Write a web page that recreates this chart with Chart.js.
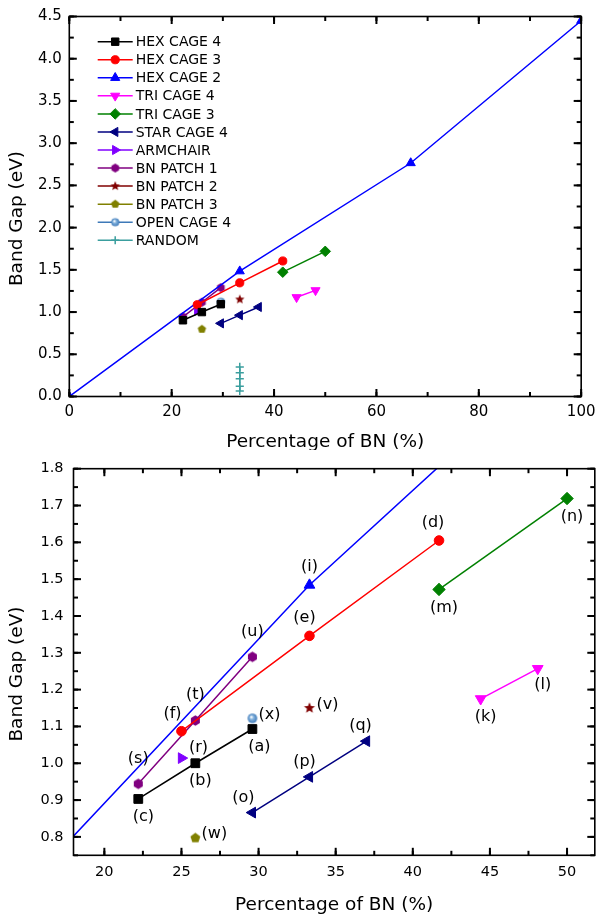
<!DOCTYPE html>
<html>
<head>
<meta charset="utf-8">
<script src="https://cdn.jsdelivr.net/npm/chart.js@4/dist/chart.umd.min.js"></script>
<style>
  body { margin: 0; background: #fff; }
  #wrap { position: relative; width: 602px; height: 918px; overflow: hidden; }
  canvas { position: absolute; left: 0; }
  #overview { top: 0; }
  #zoomed { top: 450px; background: #fff; }
</style>
</head>
<body>
<div id="wrap">
  <canvas id="overview" width="602" height="470"></canvas>
  <canvas id="zoomed" width="602" height="468"></canvas>
</div>
<script>
// values: x = percentage of BN, y = band gap (eV)
const seriesNames = ['HEX CAGE 4', 'HEX CAGE 3', 'HEX CAGE 2', 'TRI CAGE 4', 'TRI CAGE 3', 'STAR CAGE 4',
  'ARMCHAIR', 'BN PATCH 1', 'BN PATCH 2', 'BN PATCH 3', 'OPEN CAGE 4', 'RANDOM'];

const hexCage4X = [29.6, 25.9, 22.2];
const hexCage4Y = [1.093, 1.0, 0.903];
const hexCage4Tags = ['(a)', '(b)', '(c)'];

const hexCage3X = [41.7, 33.3, 25.0];
const hexCage3Y = [1.605, 1.346, 1.087];
const hexCage3Tags = ['(d)', '(e)', '(f)'];

const hexCage2X = [0, 33.3, 66.7, 100];
const hexCage2Y = [0, 1.484, 2.765, 4.45];
const hexCage2Tags = ['', '(i)', '', ''];

const triCage4X = [44.4, 48.1];
const triCage4Y = [1.175, 1.257];
const triCage4Tags = ['(k)', '(l)'];

const triCage3X = [41.7, 50.0];
const triCage3Y = [1.472, 1.719];
const triCage3Tags = ['(m)', '(n)'];

const starCage4X = [29.6, 33.3, 37.0];
const starCage4Y = [0.866, 0.963, 1.06];
const starCage4Tags = ['(o)', '(p)', '(q)'];

const armchairX = [25.0];
const armchairY = [1.014];
const armchairTags = ['(r)'];

const bnPatch1X = [22.2, 25.9, 29.6];
const bnPatch1Y = [0.944, 1.116, 1.289];
const bnPatch1Tags = ['(s)', '(t)', '(u)'];

const bnPatch2X = [33.3];
const bnPatch2Y = [1.15];
const bnPatch2Tags = ['(v)'];

const bnPatch3X = [25.9];
const bnPatch3Y = [0.797];
const bnPatch3Tags = ['(w)'];

const openCage4X = [29.6];
const openCage4Y = [1.122];
const openCage4Tags = ['(x)'];

const randomX = [33.3, 33.3, 33.3, 33.3, 33.3];
const randomY = [0.35, 0.28, 0.21, 0.12, 0.065];
const randomTags = ['', '', '', '', ''];

const topXTicks = [0, 20, 40, 60, 80, 100];
const topYTicks = [0, 0.5, 1.0, 1.5, 2.0, 2.5, 3.0, 3.5, 4.0, 4.5];
const zoomXTicks = [20, 25, 30, 35, 40, 45, 50];
const zoomYTicks = [0.8, 0.9, 1.0, 1.1, 1.2, 1.3, 1.4, 1.5, 1.6, 1.7, 1.8];

const xTitle = 'Percentage of BN (%)';
const yTitle = 'Band Gap (eV)';

Chart.defaults.font.family = 'DejaVu Sans';
Chart.defaults.color = '#000';

const seriesX = [hexCage4X, hexCage3X, hexCage2X, triCage4X, triCage3X, starCage4X, armchairX, bnPatch1X, bnPatch2X, bnPatch3X, openCage4X, randomX];
const seriesY = [hexCage4Y, hexCage3Y, hexCage2Y, triCage4Y, triCage3Y, starCage4Y, armchairY, bnPatch1Y, bnPatch2Y, bnPatch3Y, openCage4Y, randomY];
const seriesTags = [hexCage4Tags, hexCage3Tags, hexCage2Tags, triCage4Tags, triCage3Tags, starCage4Tags, armchairTags, bnPatch1Tags, bnPatch2Tags, bnPatch3Tags, openCage4Tags, randomTags];

const seriesStyles = [
  { color: '#000000', shape: 'rect', r: 6.2 },
  { color: '#ff0000', shape: 'circle', r: 4.8 },
  { color: '#0000ff', shape: 'triangle', r: 6.2 },
  { color: '#ff00ff', shape: 'triangle', r: 6.2, rot: 180 },
  { color: '#008000', shape: 'rectRot', r: 6.2 },
  { color: '#000080', shape: 'triangle', r: 6.2, rot: -90 },
  { color: '#8000ff', shape: 'triangle', r: 6.2, rot: 90 },
  { color: '#800080', shape: 'hexagon', r: 5.2 },
  { color: '#800000', shape: 'star', r: 5.8 },
  { color: '#808000', shape: 'pentagon', r: 5.2 },
  { color: '#3d79b8', shape: 'ball', r: 4.8 },
  { color: '#3a9e9e', shape: 'cross', r: 4.8 }
];

// hand drawn markers for the shapes chart.js does not have
function markerCanvas(shape, color, r) {
  const size = Math.ceil(r * 2 + 2);
  const c = document.createElement('canvas');
  c.width = size;
  c.height = size;
  const g = c.getContext('2d');
  const cx = size / 2, cy = size / 2;
  g.fillStyle = color;
  g.beginPath();
  if (shape === 'hexagon' || shape === 'pentagon') {
    const n = shape === 'hexagon' ? 6 : 5;
    for (let i = 0; i < n; i++) {
      const a = -Math.PI / 2 + i * 2 * Math.PI / n;
      g.lineTo(cx + r * Math.cos(a), cy + r * Math.sin(a));
    }
  } else if (shape === 'star') {
    for (let i = 0; i < 10; i++) {
      const a = -Math.PI / 2 + i * Math.PI / 5;
      const rr = i % 2 ? r * 0.45 : r;
      g.lineTo(cx + rr * Math.cos(a), cy + rr * Math.sin(a));
    }
  } else if (shape === 'ball') {
    const grad = g.createRadialGradient(cx - r * 0.25, cy - r * 0.3, r * 0.1, cx, cy, r);
    grad.addColorStop(0, '#ffffff');
    grad.addColorStop(0.35, '#86b4de');
    grad.addColorStop(1, color);
    g.fillStyle = grad;
    g.arc(cx, cy, r, 0, Math.PI * 2);
  }
  g.closePath();
  g.fill();
  return c;
}

function buildDatasets(k, clip) {
  return seriesNames.map((name, i) => {
    const st = seriesStyles[i];
    const r = st.r * k;
    const custom = ['hexagon', 'pentagon', 'star', 'ball'].includes(st.shape);
    return {
      label: name,
      data: seriesX[i].map((x, j) => ({ x: x, y: seriesY[i][j] })),
      tags: seriesTags[i],
      showLine: true,
      borderColor: st.color,
      backgroundColor: st.color,
      borderWidth: 1.5,
      pointStyle: custom ? markerCanvas(st.shape, st.color, r) : st.shape,
      pointRadius: r,
      pointRotation: st.rot || 0,
      pointBorderWidth: st.shape === 'cross' ? 1.5 : 1,
      pointBackgroundColor: st.color,
      pointBorderColor: st.color,
      clip: clip
    };
  });
}

// box with inward major / minor ticks on all four sides, plus axis titles
function makeFrame(cfg) {
  return {
    id: 'originFrame',
    afterDraw(chart) {
      const ctx = chart.ctx;
      const a = chart.chartArea;
      const xs = chart.scales.x, ys = chart.scales.y;
      const segs = [];
      const collect = (scale, step, len) => {
        const first = Math.ceil(scale.min / step - 1e-6);
        for (let i = first; i * step <= scale.max + 1e-6; i++) {
          const p = scale.getPixelForValue(i * step);
          if (scale === xs) {
            segs.push([p, a.bottom, p, a.bottom - len], [p, a.top, p, a.top + len]);
          } else {
            segs.push([a.left, p, a.left + len, p], [a.right, p, a.right - len, p]);
          }
        }
      };
      collect(xs, cfg.xMinor, 4.5);
      collect(ys, cfg.yMinor, 4.5);
      collect(xs, cfg.xMajor, 7.5);
      collect(ys, cfg.yMajor, 7.5);
      ctx.save();
      ctx.strokeStyle = '#000';
      ctx.lineWidth = 2;
      segs.forEach(s => {
        ctx.beginPath();
        ctx.moveTo(s[0], s[1]);
        ctx.lineTo(s[2], s[3]);
        ctx.stroke();
      });
      ctx.lineWidth = 1.6;
      ctx.strokeRect(a.left, a.top, a.right - a.left, a.bottom - a.top);
      ctx.fillStyle = '#000';
      ctx.font = cfg.titleSize + 'px "DejaVu Sans"';
      ctx.textAlign = 'center';
      ctx.textBaseline = 'alphabetic';
      ctx.fillText(xTitle, (a.left + a.right) / 2, cfg.xTitleBase);
      ctx.translate(cfg.yTitleX, cfg.yTitleY);
      ctx.rotate(-Math.PI / 2);
      ctx.textBaseline = 'middle';
      ctx.fillText(yTitle, 0, 0);
      ctx.restore();
    }
  };
}

// legend inside the plot: line segment with marker, then name
function makeKey(cfg) {
  return {
    id: 'seriesKey',
    afterDraw(chart) {
      const ctx = chart.ctx;
      ctx.save();
      chart.data.datasets.forEach((ds, i) => {
        const y = cfg.y + i * cfg.gap;
        ctx.strokeStyle = ds.borderColor;
        ctx.fillStyle = ds.borderColor;
        ctx.lineWidth = 1.5;
        ctx.beginPath();
        ctx.moveTo(cfg.x, y);
        ctx.lineTo(cfg.x + cfg.len, y);
        ctx.stroke();
        ctx.lineWidth = ds.pointBorderWidth;
        Chart.helpers.drawPoint(ctx, {
          pointStyle: ds.pointStyle, radius: ds.pointRadius,
          rotation: ds.pointRotation, borderWidth: ds.pointBorderWidth
        }, cfg.x + cfg.len / 2, y);
        ctx.fillStyle = '#000';
        ctx.font = cfg.size + 'px "DejaVu Sans"';
        ctx.textAlign = 'left';
        ctx.textBaseline = 'middle';
        ctx.fillText(ds.label, cfg.x + cfg.len + 3, y + 1);
      });
      ctx.restore();
    }
  };
}

// (a)...(x) tags next to the points of the zoomed chart
function makeTags(cfg) {
  return {
    id: 'pointTags',
    afterDraw(chart) {
      const ctx = chart.ctx;
      ctx.save();
      ctx.fillStyle = '#000';
      ctx.font = cfg.size + 'px "DejaVu Sans"';
      ctx.textAlign = 'center';
      ctx.textBaseline = 'middle';
      chart.data.datasets.forEach((ds, i) => {
        const meta = chart.getDatasetMeta(i);
        ds.tags.forEach((tag, j) => {
          if (!tag) return;
          const pt = meta.data[j];
          const off = cfg.offsets[tag.slice(1, -1)] || [0, -16];
          ctx.fillText(tag, pt.x + off[0], pt.y + off[1]);
        });
      });
      ctx.restore();
    }
  };
}

function axis(min, max, list, fmt, size, pad, fit) {
  return {
    type: 'linear', min: min, max: max,
    afterBuildTicks: s => { s.ticks = list.map(v => ({ value: v })); },
    afterFit: fit,
    grid: { display: false, drawTicks: false },
    border: { display: false },
    ticks: { padding: pad, autoSkip: false, maxRotation: 0, font: { size: size }, callback: fmt }
  };
}

new Chart(document.getElementById('overview'), {
  type: 'scatter',
  data: { datasets: buildDatasets(0.85, undefined) },
  options: {
    responsive: false,
    animation: false,
    layout: { padding: { top: 15, right: 16, left: 0, bottom: 0 } },
    scales: {
      x: axis(0, 100, topXTicks, v => v.toFixed(0), 15, 6.5, s => { s.height = 73.5; }),
      y: axis(0, 4.5, topYTicks, v => v.toFixed(1), 15, 7.5, s => { s.width = 69.3; })
    },
    plugins: { legend: { display: false }, tooltip: { enabled: false } }
  },
  plugins: [
    makeFrame({ xMajor: 20, xMinor: 10, yMajor: 0.5, yMinor: 0.25, titleSize: 18.5, xTitleBase: 446.8, yTitleX: 17, yTitleY: 218.5 }),
    makeKey({ x: 97.7, y: 41.7, gap: 18.05, len: 35, size: 14 })
  ]
});

new Chart(document.getElementById('zoomed'), {
  type: 'scatter',
  data: { datasets: buildDatasets(1, 0) },
  options: {
    responsive: false,
    animation: false,
    layout: { padding: { top: 15, right: 1, left: 0, bottom: 0 } },
    scales: {
      x: axis(18, 51.8, zoomXTicks, v => v.toFixed(0), 14.5, 8.5, s => { s.height = 62.7; }),
      y: axis(0.75, 1.8, zoomYTicks, v => v.toFixed(1), 14.5, 10, s => { s.width = 73.5; })
    },
    plugins: { legend: { display: false }, tooltip: { enabled: false } }
  },
  plugins: [
    makeFrame({ xMajor: 5, xMinor: 2.5, yMajor: 0.1, yMinor: 0.05, titleSize: 18.5, xTitleBase: 460, yTitleX: 17, yTitleY: 224 }),
    makeTags({
      size: 16,
      offsets: {
        a: [7, 18], b: [5, 18], c: [5, 18], d: [-6, -18], e: [-5, -18], f: [-9, -17],
        i: [0, -18], k: [5, 18], l: [5, 16], m: [5, 18], n: [5, 18],
        o: [-9, -15], p: [-5, -15], q: [-6, -15], r: [17, -10],
        s: [0, -25], t: [0, -26], u: [0, -25], v: [18, -3], w: [19, -4], x: [17, -3]
      }
    })
  ]
});
</script>
</body>
</html>
